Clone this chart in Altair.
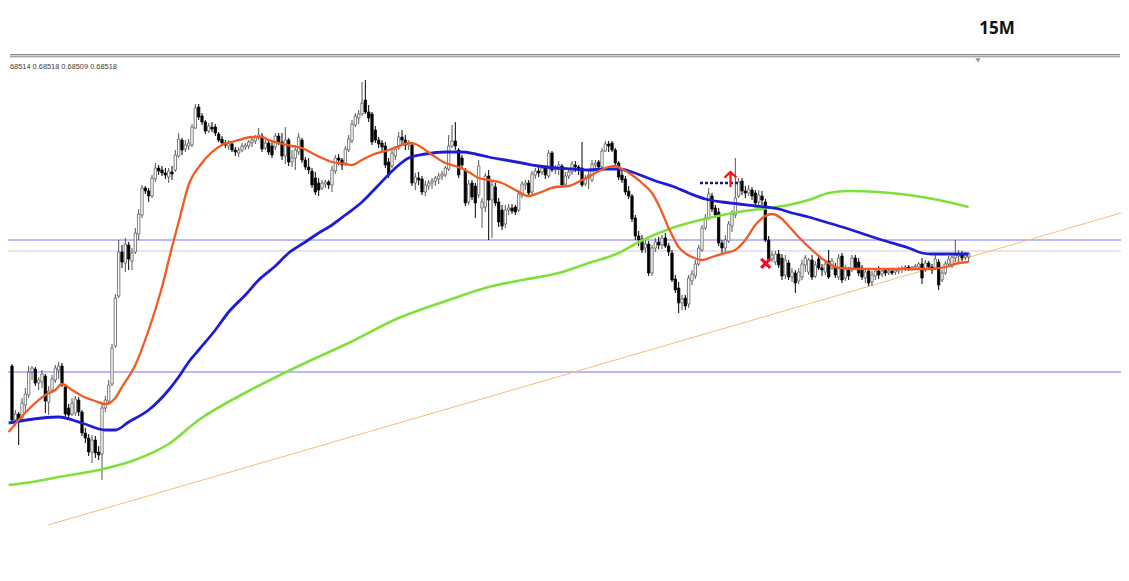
import altair as alt
import pandas as pd

# ---------------- data (prices in points of 0.00001 above BASE) ----------------
BASE = 0.68171
PT = 0.00001

OPEN = [
    234,180,186,182,195,205,228,231,217,218,224,198,
    210,220,230,234,213,192,186,187,200,188,167,162,
    148,160,148,146,192,199,216,254,304,348,337,355,
    339,348,366,385,412,409,404,421,432,430,427,423,
    428,430,444,460,451,454,455,472,493,484,478,469,
    473,473,466,461,457,454,456,450,447,450,453,454,
    457,459,463,464,452,457,454,453,464,458,444,460,
    438,442,448,460,440,433,429,422,417,412,416,418,
    415,429,442,440,436,450,459,475,482,486,500,488,
    486,470,460,457,454,438,434,444,452,463,460,455,
    455,417,422,421,408,414,417,419,421,424,425,431,
    454,459,450,442,430,398,417,414,405,392,393,424,
    400,413,398,390,376,390,392,393,390,405,415,417,
    408,425,429,428,432,424,447,430,431,434,416,424,
    428,435,433,432,416,422,420,435,438,433,449,456,
    457,450,437,425,421,409,404,382,364,361,352,356,
    327,352,358,355,362,354,347,321,312,297,302,296,
    319,324,336,350,372,382,404,392,388,357,352,359,
    374,385,404,419,409,407,410,407,398,404,398,360,
    341,338,346,342,325,337,323,327,319,323,335,328,
    340,324,341,332,328,339,332,333,323,344,322,330,
    330,342,338,332,322,329,318,324,329,326,330,327,
    329,328,329,331,332,333,331,333,333,336,330,337,
    333,332,338,320,327,336,334,342,344,346,343,343,
]
HIGH = [
    236,190,188,202,212,234,234,233,223,230,226,214,
    225,235,238,237,214,196,202,204,203,190,172,166,
    165,164,154,196,204,220,256,306,360,355,362,358,
    352,372,391,415,414,412,425,437,435,434,432,432,
    434,450,467,462,460,461,476,496,496,487,480,477,
    478,476,468,464,460,460,458,453,453,457,457,460,
    463,465,472,467,460,460,458,467,467,467,473,462,
    450,455,467,462,443,442,432,428,422,420,420,420,
    434,445,446,442,454,465,480,487,490,518,520,495,
    488,474,463,460,458,442,450,454,468,470,465,460,
    457,427,428,424,419,420,422,424,427,429,434,465,
    475,478,452,445,432,420,420,417,440,402,427,430,
    420,417,402,395,395,396,396,395,410,419,420,420,
    429,432,434,435,434,450,449,435,439,436,428,432,
    439,439,435,458,425,429,440,440,440,452,459,459,
    459,452,439,429,424,414,406,385,369,365,360,359,
    355,362,363,365,367,357,350,325,318,305,305,325,
    330,340,355,375,386,412,407,395,392,360,365,379,
    390,442,422,422,414,415,413,410,410,409,401,364,
    349,349,350,346,345,340,332,330,332,340,345,342,
    345,339,345,336,340,350,342,337,346,347,335,333,
    345,345,342,335,332,332,329,332,334,332,332,331,
    332,332,333,334,335,335,334,336,338,342,340,339,
    336,345,341,330,339,344,345,360,350,349,348,347,
]
LOW = [
    178,174,155,180,188,202,220,214,210,212,187,185,
    208,217,221,213,182,182,184,184,184,164,157,144,
    137,142,140,120,188,195,214,252,302,332,328,330,
    330,346,360,382,406,398,402,418,425,424,421,417,
    420,428,442,445,448,450,453,471,480,475,466,467,
    468,464,458,454,452,450,448,444,443,448,450,451,
    453,456,460,448,450,445,442,450,455,440,436,434,
    433,430,445,437,430,426,412,405,404,410,412,411,
    408,426,435,430,434,448,457,473,476,484,486,478,
    455,457,452,448,432,422,432,440,450,455,450,450,
    414,410,415,405,404,410,411,414,416,420,423,429,
    452,450,422,432,394,395,400,382,402,372,388,360,
    362,394,373,370,372,385,386,385,388,402,410,404,
    405,421,423,425,421,422,428,426,425,412,414,421,
    425,428,425,413,414,411,418,431,431,431,448,448,
    448,435,420,417,405,401,378,360,354,347,347,324,
    324,348,351,351,352,344,318,307,287,290,290,292,
    315,321,334,348,370,380,388,382,354,347,348,357,
    368,382,402,405,402,404,400,394,394,395,358,338,
    338,335,332,320,321,320,318,307,316,320,328,325,
    320,322,330,324,325,321,330,322,320,317,319,320,
    328,330,324,320,317,314,314,320,321,323,324,325,
    325,325,326,327,329,329,329,330,331,316,328,330,
    326,330,310,318,325,333,332,338,338,339,340,338,
]
CLOSE = [
    180,186,179,197,206,228,232,217,220,226,199,209,
    221,232,234,215,186,185,197,201,188,167,162,148,
    160,147,145,192,200,215,252,302,348,338,356,341,
    347,367,386,412,409,404,422,432,429,427,425,429,
    426,445,461,450,455,457,473,492,483,478,469,474,
    471,467,460,457,455,457,450,448,450,454,455,458,
    460,463,465,451,457,448,445,464,458,444,460,438,
    442,450,463,440,433,430,415,408,410,417,418,415,
    430,442,440,435,451,461,476,484,486,497,488,482,
    458,460,456,453,435,425,447,451,463,460,455,457,
    417,423,420,408,415,417,419,422,424,426,432,454,
    459,454,425,435,397,416,403,397,434,398,424,400,
    415,397,378,374,390,392,389,388,406,416,417,407,
    426,429,427,432,425,447,430,432,435,415,424,428,
    436,433,430,415,422,425,436,437,433,449,456,454,
    450,437,423,420,408,404,381,364,360,350,356,327,
    352,358,355,362,354,348,320,310,297,301,294,322,
    326,336,352,372,382,406,391,385,357,352,360,376,
    386,402,418,409,407,411,404,397,405,400,360,341,
    345,346,335,324,340,323,328,317,328,336,342,340,
    323,335,332,330,336,323,339,325,342,320,332,324,
    342,332,327,323,328,317,325,329,325,329,327,329,
    327,330,331,332,333,331,333,334,336,322,337,333,
    330,341,315,327,336,341,343,345,346,342,345,347,
]

# moving averages: (bar index, points)
ORANGE_I = [-1,2,6,10,13,15,18,21,25,28,31,33,37,41,45,48,50,53,57,60,63,67,72,75,77,80,84,87,90,93,
            96,100,102,105,108,113,117,119,121,124,127,130,133,137,140,143,147,151,155,158,163,167,171,175,179,
            181,183,186,189,192,194,197,200,204,207,210,214,217,220,223,226,228,231,233,236,240,244,248,256,266,
            276,280,284,287]
ORANGE_P = [168,180,194,205,210,216,210,204,199,196,202,213,235,270,313,353,378,415,437,448,455,459,463,463,460,457,454,452,447,442,
            438,436,435,440,445,450,455,457,456,450,443,437,434,428,422,420,417,410,404,407,413,414,420,427,433,
            434,431,425,417,407,395,372,353,343,340,343,347,350,360,375,384,386,381,374,363,350,339,332,331,331,
            331,333,337,338]
BLUE_I = [-1,9,14,21,28,31,35,41,47,50,53,56,61,65,70,74,79,83,88,92,96,100,105,110,115,119,124,130,135,139,
          143,148,153,158,163,168,173,178,182,186,190,194,198,203,208,213,218,223,226,230,234,239,242,251,261,269,273,276,281,287]
BLUE_P = [177,182,183,177,170,170,178,190,210,223,238,250,270,288,305,320,334,347,358,367,375,385,398,415,432,442,446,448,448,446,
          443,440,437,434,432,431,430,431,431,428,423,418,414,407,401,398,396,394,393,391,387,383,380,371,360,352,347,346,346,346]
GREEN_I = [-1,6,14,26,36,47,56,71,86,101,116,131,143,153,164,173,182,188,198,209,218,227,233,239,245,251,260,269,278,287]
GREEN_P = [115,118,123,130,139,156,180,209,234,257,282,300,313,320,327,337,347,358,372,382,388,392,395,400,407,409,408,405,400,393]

LEVELS_BLUE = [360, 228]
LEVELS_GRAY = [349]
TREND_I = [10.8, 332.7]
TREND_P = [75, 387]
DOTTED_I = [206.4, 219.0]
DOTTED_P = [417, 417]
ARROW_I = [215.55]
ARROW_P = [420.5]
CROSS_I = [226.1]
CROSS_P = [336.7]
HEADER = "68514 0.68518 0.68509 0.68518"
TIMEFRAME = "15M"


def price(vals):
    return [BASE + v * PT for v in vals]


n = min(len(OPEN), len(HIGH), len(LOW), len(CLOSE))
df = pd.DataFrame({
    "i": list(range(n)),
    "open": price(OPEN[:n]),
    "high": price(HIGH[:n]),
    "low": price(LOW[:n]),
    "close": price(CLOSE[:n]),
})
df["bull"] = df["close"] >= df["open"]
df["x1"] = df["i"] - 0.36
df["x2"] = df["i"] + 0.36
df["top"] = df[["open", "close"]].max(axis=1)
df["bot"] = df[["open", "close"]].min(axis=1)
thin = (df["top"] - df["bot"]) < 0.6 * PT
df.loc[thin, "bot"] = df.loc[thin, "top"] - 0.6 * PT

W, H = 1113, 565
xs = alt.Scale(domain=[-1.2, 332.7], nice=False, zero=False)
ys = alt.Scale(domain=[0.68198, 0.68763], nice=False, zero=False)


def X(f):
    return alt.X(f, type="quantitative", scale=xs, axis=None)


def Y(f):
    return alt.Y(f, type="quantitative", scale=ys, axis=None)


levels = pd.DataFrame({
    "p": price(LEVELS_BLUE) + price(LEVELS_GRAY),
    "c": ["#7474f6"] * len(LEVELS_BLUE) + ["#cdcdcd"] * len(LEVELS_GRAY),
})
lvl = alt.Chart(levels).mark_rule(strokeWidth=1).encode(
    y=Y("p"), color=alt.Color("c:N", scale=None))

trend = alt.Chart(pd.DataFrame({"i": TREND_I, "p": price(TREND_P)})).mark_line(
    color="#f8bd74", strokeWidth=1).encode(x=X("i"), y=Y("p"))

wicks = alt.Chart(df).mark_rule(strokeWidth=1).encode(
    x=X("i"), y=Y("low"), y2="high:Q",
    color=alt.when("datum.bull").then(alt.value("#555555")).otherwise(alt.value("#000000")),
)
bodies = alt.Chart(df).mark_rect(strokeWidth=0.75).encode(
    x=X("x1"), x2="x2:Q", y=Y("top"), y2="bot:Q",
    fill=alt.when("datum.bull").then(alt.value("#ffffff")).otherwise(alt.value("#000000")),
    stroke=alt.when("datum.bull").then(alt.value("#555555")).otherwise(alt.value("#000000")),
)


def ma(ii, pp, color, w):
    return alt.Chart(pd.DataFrame({"i": ii, "p": price(pp)})).mark_line(
        color=color, strokeWidth=w, interpolate="monotone").encode(x=X("i"), y=Y("p"))


green = ma(GREEN_I, GREEN_P, "#7fe03c", 2.6)
blue = ma(BLUE_I, BLUE_P, "#1d1dd4", 2.8)
orange = ma(ORANGE_I, ORANGE_P, "#f15a22", 2.3)

dotted = alt.Chart(pd.DataFrame({"i": DOTTED_I, "p": price(DOTTED_P)})).mark_line(
    color="#1c1c66", strokeWidth=2.5, strokeDash=[3, 2]).encode(x=X("i"), y=Y("p"))

arrow = alt.Chart(pd.DataFrame({"i": ARROW_I, "p": price(ARROW_P)})).mark_point(
    shape="M0,1L0,-1M-0.8,-0.25L0,-1L0.8,-0.25", filled=False, stroke="#ff1010",
    strokeWidth=2.2, size=225, opacity=1).encode(x=X("i"), y=Y("p"))

cross = alt.Chart(pd.DataFrame({"i": CROSS_I, "p": price(CROSS_P)})).mark_point(
    shape="M-1,-1L1,1M1,-1L-1,1", filled=False, stroke="#e8102a",
    strokeWidth=3.2, size=81, opacity=1).encode(x=X("i"), y=Y("p"))

dummy = pd.DataFrame({"a": [0]})
frame_top = alt.Chart(dummy).mark_rule(color="#8a8a8a", strokeWidth=1).encode(
    x=alt.value(2), x2=alt.value(1112), y=alt.value(46.5))
frame_bot = alt.Chart(dummy).mark_rule(color="#8a8a8a", strokeWidth=1).encode(
    x=alt.value(2), x2=alt.value(1112), y=alt.value(48.8))
frame_mid = alt.Chart(dummy).mark_rule(color="#d4d4d4", strokeWidth=1.2).encode(
    x=alt.value(2), x2=alt.value(1112), y=alt.value(47.6))
shift_marker = alt.Chart(dummy).mark_point(
    shape="triangle-down", filled=True, color="#9a9a9a", size=28, opacity=1).encode(
    x=alt.value(970), y=alt.value(52.5))

header = alt.Chart(pd.DataFrame({"t": [HEADER]})).mark_text(
    align="left", baseline="middle", fontSize=7.4, font="Liberation Sans",
    color="#3a3a3a").encode(x=alt.value(2), y=alt.value(59), text="t:N")
tf = alt.Chart(pd.DataFrame({"t": [TIMEFRAME]})).mark_text(
    align="center", baseline="middle", fontSize=17, font="Open Sans", fontWeight="bold",
    color="#111111").encode(x=alt.value(989), y=alt.value(20.5), text="t:N")

chart = alt.layer(
    lvl, trend, wicks, bodies, green, blue, orange, dotted, arrow, cross,
    frame_top, frame_mid, frame_bot, shift_marker, header, tf,
).properties(
    width=W, height=H,
    autosize=alt.AutoSizeParams(type="none"),
    padding={"left": 0, "top": 0, "right": 0, "bottom": 0},
    background="#ffffff",
).configure_view(strokeWidth=0)

chart.save("out.html", embed_options={"renderer": "svg", "actions": False})
